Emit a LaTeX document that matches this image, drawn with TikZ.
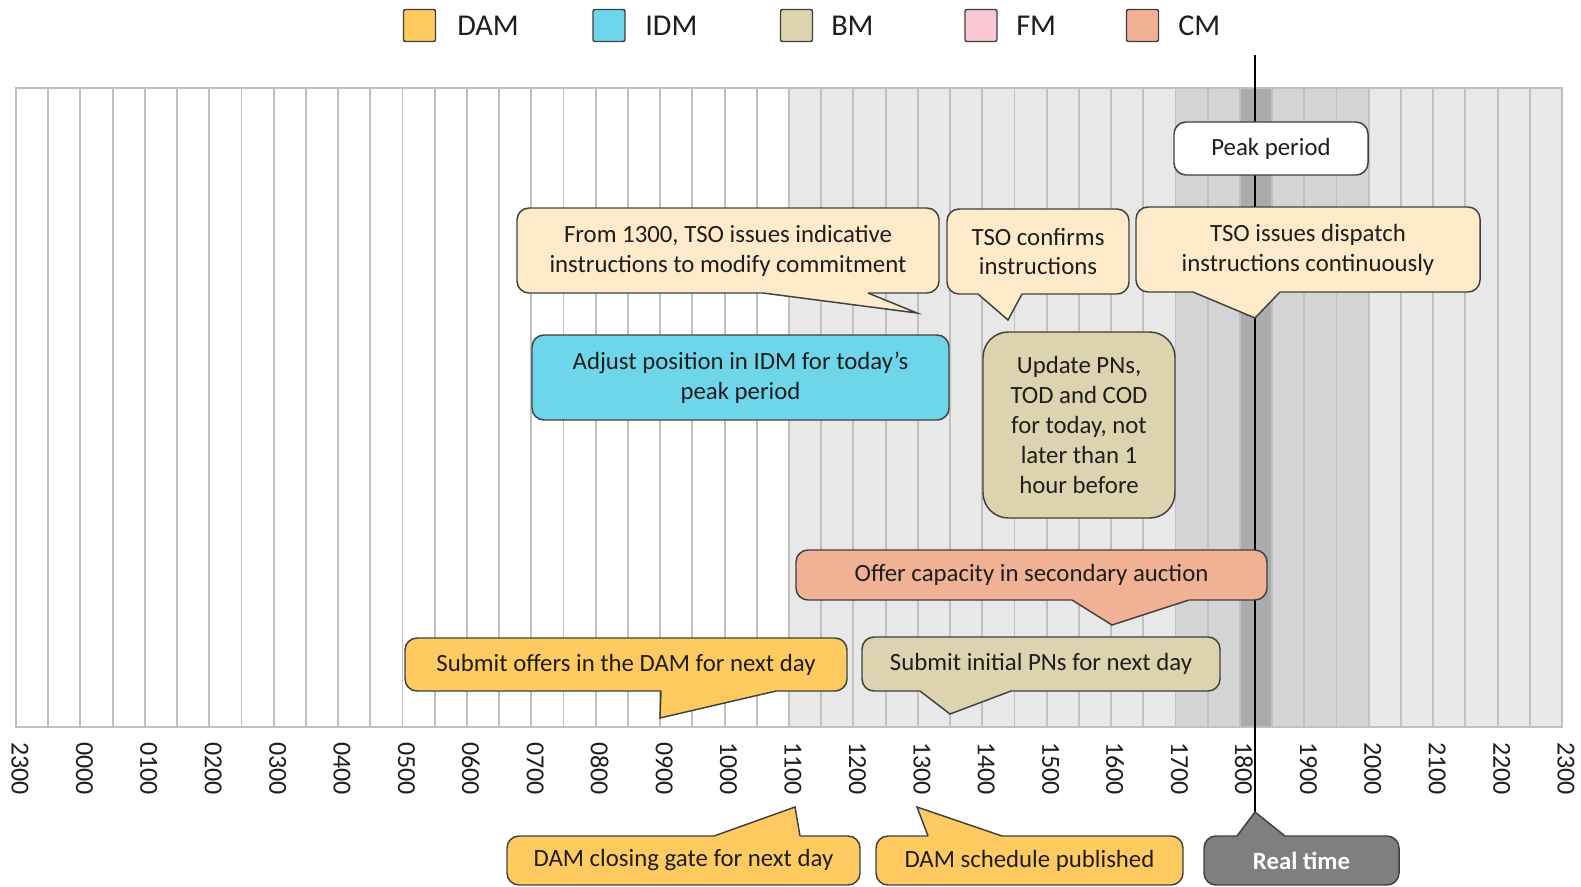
\documentclass[tikz,border=0pt]{standalone}
\usepackage{fontspec}
\setmainfont{Carlito}
\usetikzlibrary{calc}
\definecolor{damc}{HTML}{FFCA5F}
\definecolor{idmc}{HTML}{6ED6EB}
\definecolor{bmc}{HTML}{DDD3AE}
\definecolor{fmc}{HTML}{F8C8D3}
\definecolor{cmc}{HTML}{F0B194}
\definecolor{tsoc}{HTML}{FFEBC9}
\definecolor{rtc}{HTML}{7F7F7F}
\definecolor{bordc}{HTML}{404040}
\definecolor{txtc}{HTML}{1E1E1E}
\definecolor{gridc}{HTML}{C0C0C0}
\definecolor{shadea}{HTML}{E8E8E8}
\definecolor{shadeb}{HTML}{D4D4D4}
\definecolor{shadec}{HTML}{ABABAB}
\newcommand{\cfont}{\fontsize{18.6}{22.4}\selectfont}
\newcommand{\ptrdown}[5]{%
  \fill[#1] (#2,#4-3) -- (#2,#4) -- (#5) -- (#3,#4) -- (#3,#4-3) -- cycle;
  \draw[ptrside] (#2,#4) -- (#5) -- (#3,#4);}
\newcommand{\ptrup}[5]{%
  \fill[#1] (#2,#4+3) -- (#2,#4) -- (#5) -- (#3,#4) -- (#3,#4+3) -- cycle;
  \draw[ptrside] (#2,#4) -- (#5) -- (#3,#4);}
\begin{document}
\begin{tikzpicture}[x=0.75pt,y=-0.75pt,
  box/.style={draw=bordc, line width=1.1pt, rounded corners=9pt, inner sep=0pt, align=center, text=txtc, font=\cfont},
  sz/.style 2 args={minimum width=#1, minimum height=#2},
  ptrside/.style={draw=bordc, line width=1.1pt, line join=miter},
  legsq/.style={draw=bordc, line width=1.1pt, rounded corners=1.5pt, minimum width=24pt, minimum height=24pt, inner sep=0pt},
  legtx/.style={anchor=west, font=\fontsize{22.7}{27}\selectfont, text=txtc, inner sep=0pt},
  hourlab/.style={rotate=-90, anchor=west, font=\fontsize{19.5}{23}\selectfont, text=txtc, inner sep=0pt},
  gridline/.style={draw=gridc, line width=1.4pt},
  rtline/.style={draw=black, line width=0.9pt},
]
\useasboundingbox (0,0) rectangle (1581,886);
% pointer tips
\coordinate (indtip) at (917,313);
\coordinate (conftip) at (1008,320);
\coordinate (disptip) at (1255,318);
\coordinate (captip) at (1112,625);
\coordinate (subtip) at (660,718);
\coordinate (pnstip) at (950,714);
\coordinate (gatetip) at (795,807);
\coordinate (schedtip) at (917,807);
\coordinate (rttip) at (1255,812);
\coordinate (rttop) at (1255,55);
% shading
\fill[shadea] (789,88) rectangle (1562,727);
\fill[shadeb] (1175,88) rectangle (1368,727);
\fill[shadec] (1240,88) rectangle (1272,727);
\foreach \i in {1,...,47} \draw[gridline] ({16+\i*32.208},88) -- ({16+\i*32.208},727);
\draw[draw=gridc, line width=1.8pt] (16,88) rectangle (1562,727);
% hour labels
\foreach \lab [count=\k from 0] in {2300,0000,0100,0200,0300,0400,0500,0600,0700,0800,0900,1000,1100,1200,1300,1400,1500,1600,1700,1800,1900,2000,2100,2200,2300}
  \node[hourlab] (h\k) at ({20+\k*64.417},742) {\lab};
% real time line
\draw[rtline] (rttop) -- (rttip);
% legend
\node[legsq, fill=damc] (lgdam) at (419.5,25.5) {};
\node[legtx] (tdam) at (457,26) {DAM};
\node[legsq, fill=idmc] (lgidm) at (609,25.5) {};
\node[legtx] (tidm) at (645,26) {IDM};
\node[legsq, fill=bmc] (lgbm) at (796.5,25.5) {};
\node[legtx] (tbm) at (831,26) {BM};
\node[legsq, fill=fmc] (lgfm) at (981,25.5) {};
\node[legtx] (tfm) at (1016,26) {FM};
\node[legsq, fill=cmc] (lgcm) at (1142.5,25.5) {};
\node[legtx] (tcm) at (1178,26) {CM};
% callouts
\node[box, fill=white, sz={145.5pt}{39.75pt}] (peak) at (1271,148.5) {Peak period};
\node[box, fill=tsoc, sz={316.5pt}{63.75pt}] (ind) at (728,250.5) {From 1300, TSO issues indicative\\instructions to modify commitment};
\ptrdown{tsoc}{763}{868}{293}{indtip}
\node[box, fill=tsoc, sz={136.5pt}{63.75pt}] (conf) at (1038,251.5) {TSO confirms\\instructions};
\ptrdown{tsoc}{978}{1022}{294}{conftip}
\node[box, fill=tsoc, sz={258pt}{63.75pt}] (disp) at (1308,249.5) {TSO issues dispatch\\instructions continuously};
\ptrdown{tsoc}{1193}{1280}{292}{disptip}
\node[box, fill=idmc, sz={312.75pt}{63.75pt}] (idm) at (740.5,377.5) {Adjust position in IDM for today’s\\peak period};
\node[box, fill=bmc, rounded corners=19pt, sz={144pt}{139.5pt}] (upd) at (1079,425) {Update PNs,\\TOD and COD\\for today, not\\later than 1\\hour before};
\node[box, fill=cmc, sz={353.25pt}{37.5pt}] (cap) at (1031.5,575) {Offer capacity in secondary auction};
\ptrdown{cmc}{1072}{1189}{600}{captip}
\node[box, fill=damc, sz={331.5pt}{39.75pt}] (sub) at (626,664.5) {Submit offers in the DAM for next day};
\ptrdown{damc}{661}{776}{691}{subtip}
\node[box, fill=bmc, sz={268.5pt}{40.5pt}] (pns) at (1041,664) {Submit initial PNs for next day};
\ptrdown{bmc}{920}{1011}{691}{pnstip}
\node[box, fill=damc, sz={264.75pt}{36.75pt}] (gate) at (683.5,860.5) {DAM closing gate for next day};
\ptrup{damc}{714}{800}{836}{gatetip}
\node[box, fill=damc, sz={230.25pt}{36.75pt}] (sched) at (1029.5,860.5) {DAM schedule published};
\ptrup{damc}{928}{1002}{836}{schedtip}
\node[box, fill=rtc, text=white, font=\cfont\bfseries, sz={146.25pt}{36.75pt}] (rt) at (1301.5,860.5) {Real time};
\ptrup{rtc}{1237}{1285}{836}{rttip}
\end{tikzpicture}
\end{document}
